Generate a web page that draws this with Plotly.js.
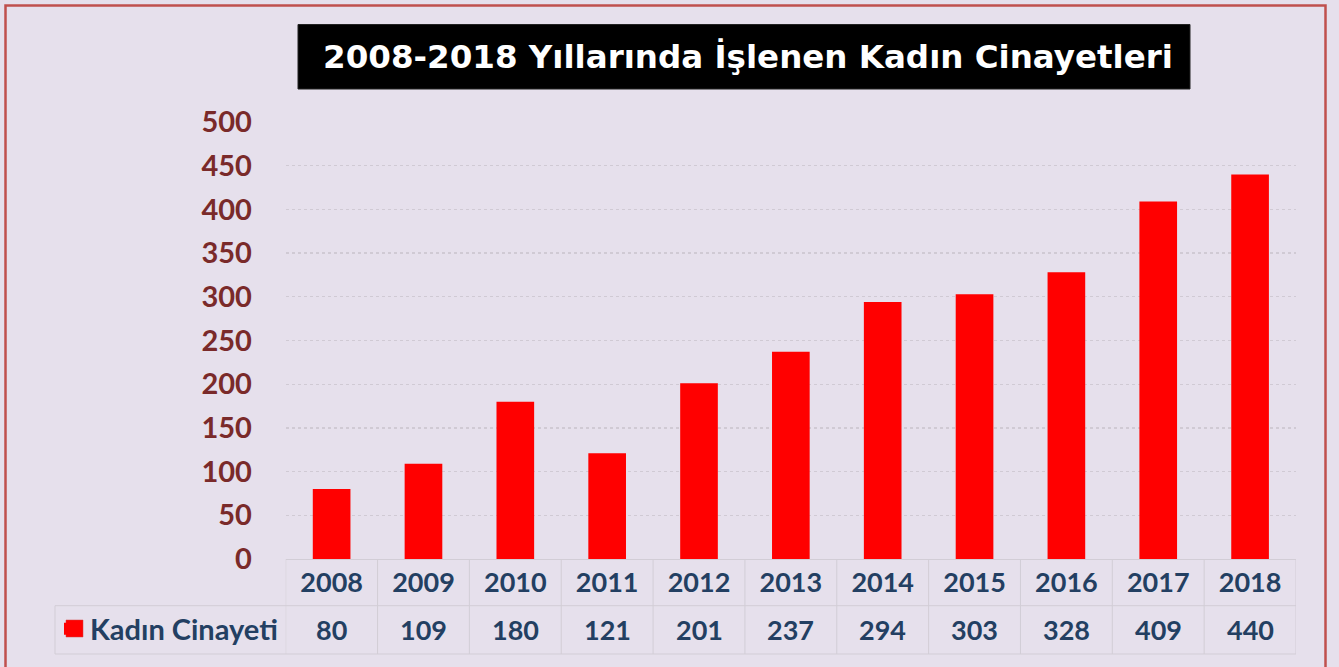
<!DOCTYPE html>
<html>
<head>
<meta charset="utf-8">
<script src="https://cdn.plot.ly/plotly-3.0.1.min.js"></script>
<style>html,body{margin:0;padding:0;background:#ffffff;}#chart{width:1339px;height:667px;}</style>
</head>
<body>
<div id="chart"></div>
<script>
var years = ['2008','2009','2010','2011','2012','2013','2014','2015','2016','2017','2018'];
var murders = [80, 109, 180, 121, 201, 237, 294, 303, 328, 409, 440];
var seriesName = 'Kadın Cinayeti';
var chartTitle = '2008-2018 Yıllarında İşlenen Kadın Cinayetleri';
var yTicks = [0, 50, 100, 150, 200, 250, 300, 350, 400, 450, 500];

var W = 1339, H = 667;
function px(x){ return x / W; }
function py(y){ return 1 - y / H; }

var FONT = 'Lato, "Open Sans", sans-serif';
var TITLE_FONT = '"DejaVu Sans", Lato, sans-serif';
var NAVY = '#233f62';
var BAR_RED = '#ff0000';
var TABLE_LINE = '#d2cdd6';

var plotLeft = 285.7, plotRight = 1296, plotTop = 122, plotBottom = 559;
var row1Bottom = 605.7, row2Bottom = 654, legendLeft = 55;

var shapes = [];
// outer border
shapes.push({type:'rect', xref:'paper', yref:'paper', x0:px(5.5), x1:px(1325.5), y0:py(5.5), y1:py(675),
  line:{color:'#c0504d', width:2.5}, fillcolor:'rgba(0,0,0,0)', layer:'below'});
// title box
shapes.push({type:'rect', xref:'paper', yref:'paper', x0:px(298), x1:px(1190), y0:py(24.5), y1:py(89),
  line:{color:'#222222', width:1}, fillcolor:'#000000', layer:'below'});
// table horizontal lines
[row1Bottom, row2Bottom].forEach(function(yy){
  shapes.push({type:'line', xref:'paper', yref:'paper', x0:px(legendLeft), x1:px(plotRight), y0:py(yy), y1:py(yy),
    line:{color:TABLE_LINE, width:1}});
});
// table vertical lines at category boundaries
for (var i = 0; i <= years.length; i++) {
  shapes.push({type:'line', xref:'x', yref:'paper', x0:i-0.5, x1:i-0.5, y0:py(plotBottom), y1:py(row2Bottom),
    line:{color:TABLE_LINE, width:1}});
}
shapes.push({type:'line', xref:'paper', yref:'paper', x0:px(legendLeft), x1:px(legendLeft), y0:py(row1Bottom), y1:py(row2Bottom),
  line:{color:TABLE_LINE, width:1}});
// larger legend key square (Excel-style data table key)
shapes.push({type:'rect', xref:'paper', yref:'paper', x0:px(66), x1:px(83), y0:py(620), y1:py(637),
  line:{color:'#d04040', width:0.5}, fillcolor:BAR_RED, layer:'above'});

var annotations = murders.map(function(v, i){
  return {xref:'x', yref:'paper', x:i, y:py((row1Bottom+row2Bottom)/2), text:String(v),
    showarrow:false, xanchor:'center', yanchor:'middle',
    font:{family:FONT, size:27, color:NAVY, weight:700}};
});

var trace = {
  type:'bar', x:years, y:murders, name:seriesName,
  marker:{color:BAR_RED, line:{color:BAR_RED, width:0}},
  hoverinfo:'x+y', showlegend:true
};

var layout = {
  width:W, height:H,
  margin:{l:0, r:0, t:0, b:0, pad:0},
  paper_bgcolor:'#e6e0ec', plot_bgcolor:'rgba(0,0,0,0)',
  title:{text:chartTitle, font:{family:TITLE_FONT, size:32.5, color:'#ffffff', weight:700},
    xref:'paper', yref:'paper', x:px(748), y:py(57), xanchor:'center', yanchor:'middle'},
  bargap:0.59,
  xaxis:{type:'category', domain:[px(plotLeft), px(plotRight)], range:[-0.5, years.length-0.5],
    autorange:false, showgrid:false, zeroline:false,
    showline:true, linecolor:TABLE_LINE, linewidth:1,
    ticks:'', tickfont:{family:FONT, size:27, color:NAVY, weight:700}, fixedrange:true},
  yaxis:{domain:[py(plotBottom), py(plotTop)], range:[0,500], autorange:false, tickvals:yTicks, ticktext:yTicks.map(String),
    showgrid:true, gridcolor:'#d0cad4', griddash:'dot', gridwidth:1.3, zeroline:false, showline:false,
    ticks:'outside', ticklen:27, tickcolor:'rgba(0,0,0,0)',
    tickfont:{family:FONT, size:29, color:'#7a2a2a', weight:700}, fixedrange:true},
  showlegend:true,
  legend:{x:px(50), y:py(629), xanchor:'left', yanchor:'middle', bgcolor:'rgba(0,0,0,0)',
    font:{family:FONT, size:29, color:NAVY, weight:700}, itemclick:false, itemdoubleclick:false},
  shapes:shapes,
  annotations:annotations
};

Plotly.newPlot('chart', [trace], layout, {displayModeBar:false, staticPlot:true});
</script>
</body>
</html>
